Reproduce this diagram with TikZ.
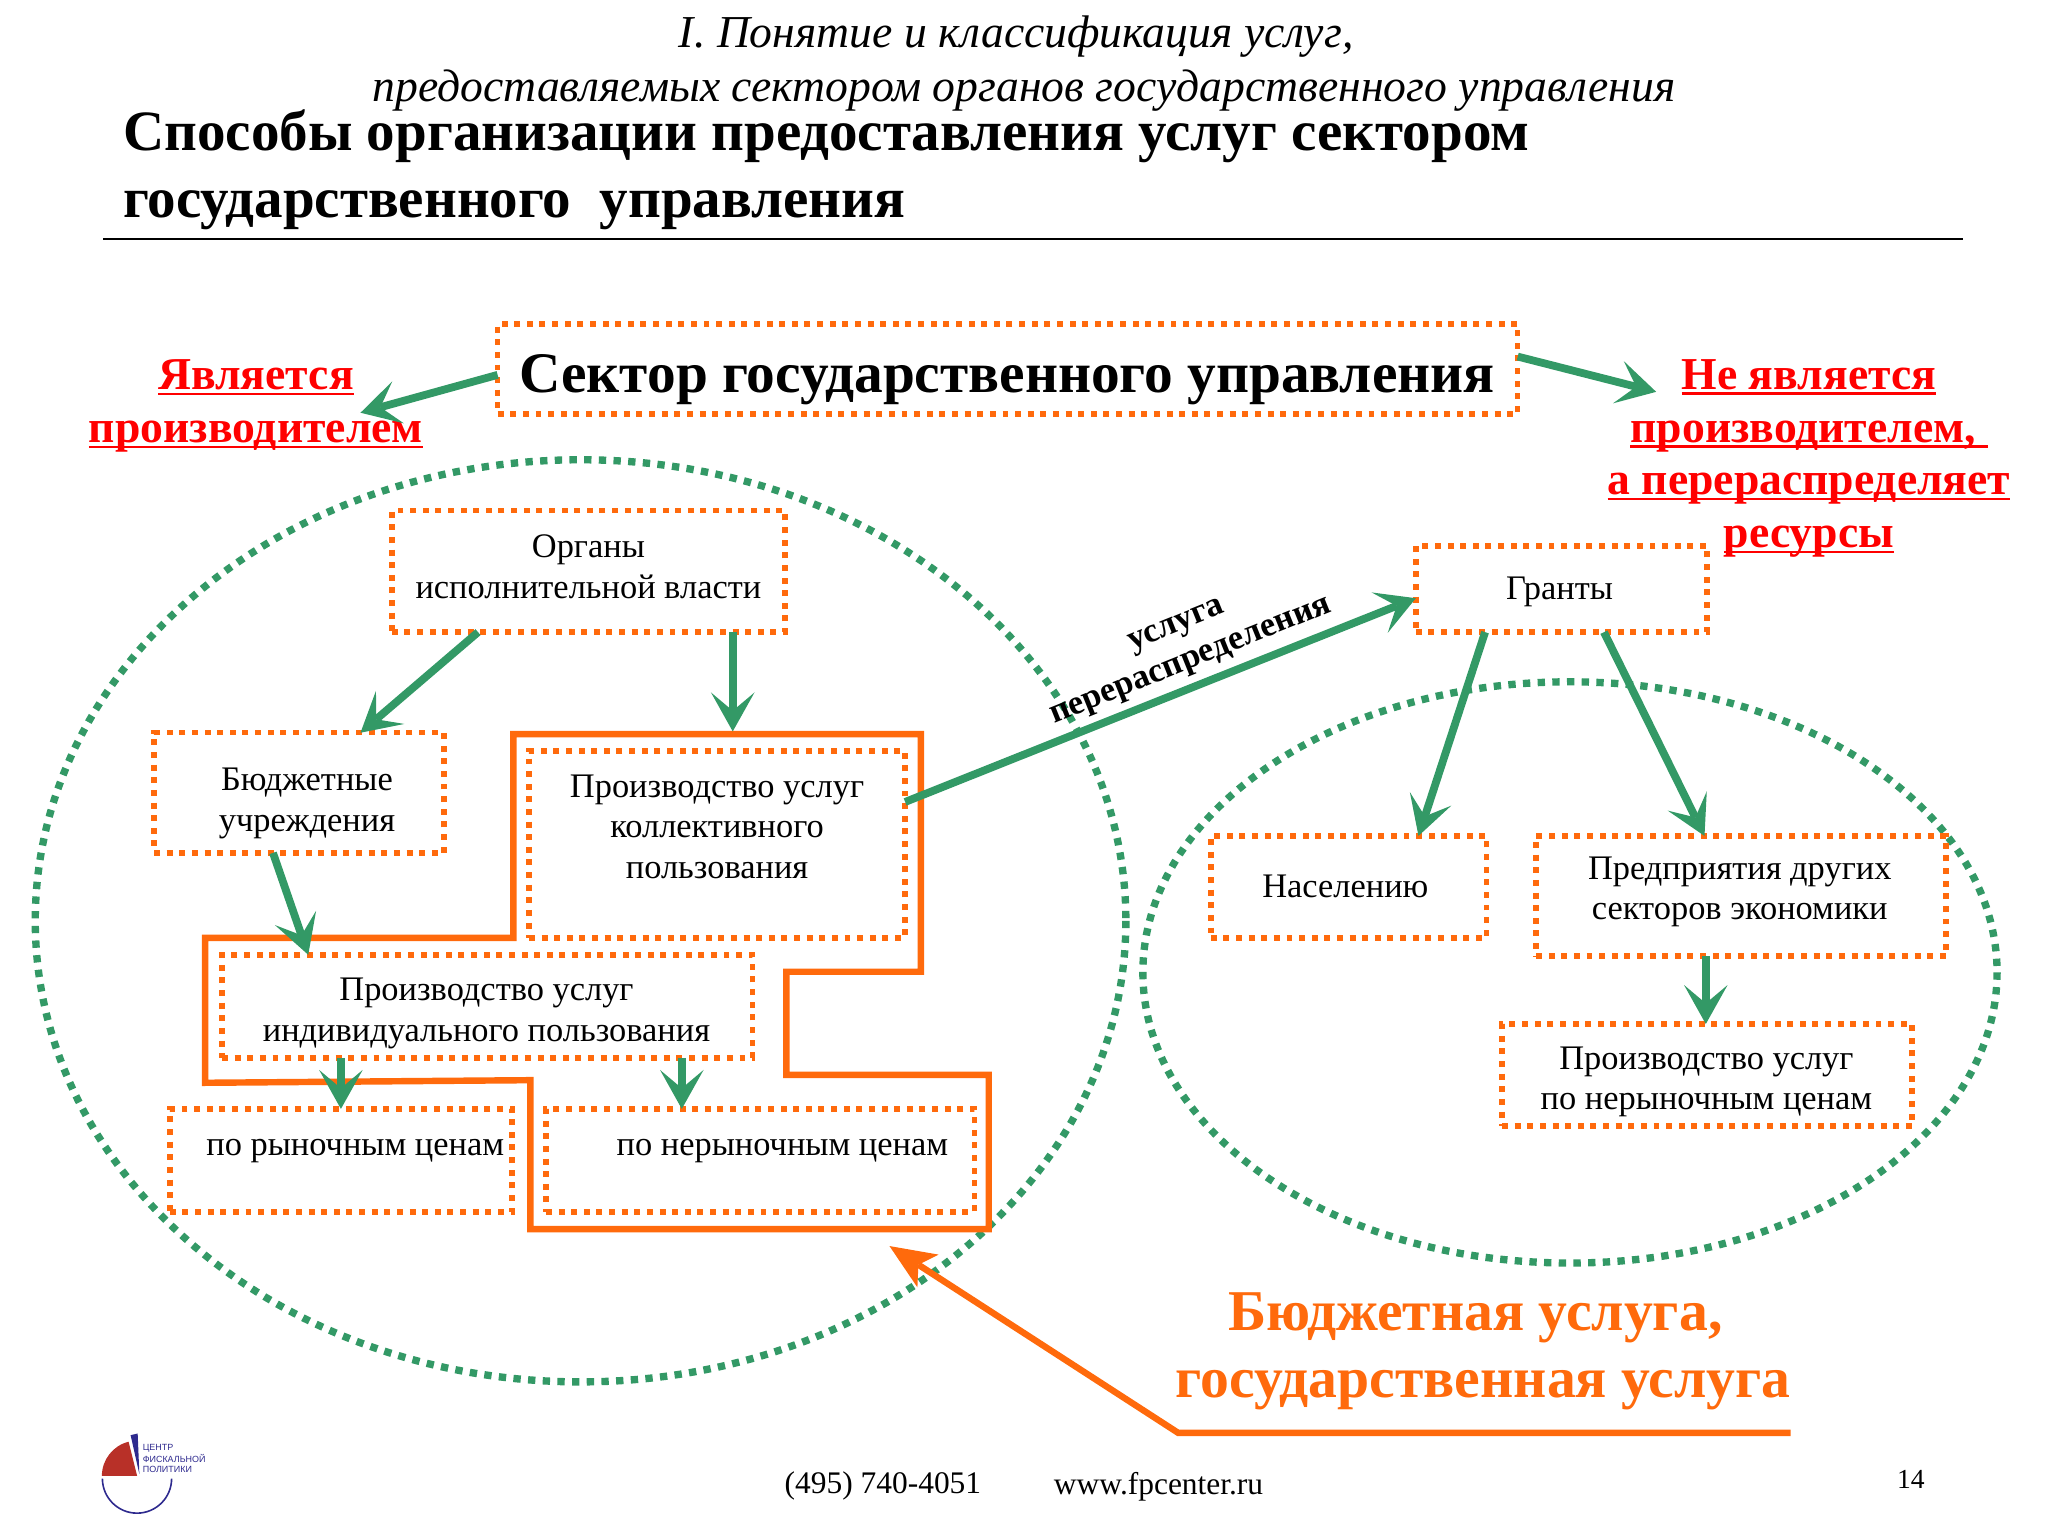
\documentclass[tikz,border=0pt]{standalone}
\usepackage{fontspec}
\setmainfont{Liberation Serif}
\newfontfamily\logofont{Liberation Sans}
\usetikzlibrary{arrows.meta}
\definecolor{fpgreen}{HTML}{339966}
\definecolor{fporange}{HTML}{FF6A0C}
\definecolor{fpred}{HTML}{FF0000}
\definecolor{fpnavy}{HTML}{2E2A8E}
\definecolor{fpbrick}{HTML}{B83028}
\tikzset{
  dotbox/.style 2 args={draw=fporange, line width=2.4pt, dash pattern=on 2.6pt off 2.9pt, inner sep=0pt, outer sep=0pt, minimum width=#1*0.02cm, minimum height=#2*0.02cm},
  zone/.style={draw=fpgreen, line width=3.2pt, dash pattern=on 3.2pt off 3.2pt},
  flow/.style={draw=fpgreen, line width=3.4pt, -{Stealth[length=17pt,width=19pt,inset=8pt,line width=0pt]}},
  hot/.style={draw=fporange, line width=2.8pt, line join=miter},
  redtxt/.style={text=fpred, align=center, font=\fontsize{19.9}{23}\selectfont\bfseries},
  plaintxt/.style={align=center, font=\fontsize{15}{17.6}\selectfont}
}
\newlength{\ullen}
\newcommand{\ul}[1]{\settowidth{\ullen}{#1}#1\llap{\rule[-2.4pt]{\ullen}{1.1pt}}}
\begin{document}
\begin{tikzpicture}[x=0.02cm,y=-0.02cm]
  \useasboundingbox (0,0) rectangle (1568,1176);
  % heading
  \node[font=\fontsize{19.9}{24}\selectfont\itshape] (head1) at (778,28) {I. Понятие и классификация услуг,};
  \node[font=\fontsize{19.9}{24}\selectfont\itshape] (head2) at (784,69) {предоставляемых сектором органов государственного управления};
  \node[anchor=west, inner sep=0pt, font=\fontsize{24.85}{29}\selectfont\bfseries] (title1) at (94,104) {Способы организации предоставления услуг сектором};
  \node[anchor=west, inner sep=0pt, font=\fontsize{24.85}{29}\selectfont\bfseries] (title2) at (94,161) {государственного\ \ управления};
  \coordinate (ruleL) at (79,183);
  \coordinate (ruleR) at (1503,183);
  \draw[line width=1.2pt] (ruleL) -- (ruleR);
  % dotted zones
  \draw[zone] (444.5,705) ellipse [x radius=417.5, y radius=353];
  \draw[zone] (1202,744.5) ellipse [x radius=327, y radius=222.5];
  % boxes
  \node[dotbox={781}{69}] (secgov) at (771.5,282.5) {};
  \node[font=\fontsize{25}{29}\selectfont\bfseries] (secgovtxt) at (771,291) {Сектор государственного управления};
  \node[dotbox={301}{93}] (organ) at (450.5,437.5) {};
  \node[plaintxt] (organtxt) at (450.5,434) {Органы\\исполнительной власти};
  \node[dotbox={222}{92}] (budget) at (229,607) {};
  \node[plaintxt] (budgettxt) at (235,615) {Бюджетные\\учреждения};
  \node[dotbox={288}{143}] (prodcol) at (549,646.5) {};
  \node[plaintxt] (prodcoltxt) at (549,633) {Производство услуг\\коллективного\\пользования};
  \node[dotbox={406}{79}] (prodind) at (373,770.5) {};
  \node[plaintxt] (prodindtxt) at (372.5,776) {Производство услуг\\индивидуального пользования};
  \node[dotbox={262}{79}] (rynok) at (261,888.5) {};
  \node[plaintxt] (rynoktxt) at (272,881) {по рыночным ценам};
  \node[dotbox={328}{79}] (nerynok) at (582,888.5) {};
  \node[plaintxt] (neryntxt) at (599,881) {по нерыночным ценам};
  \node[dotbox={223}{66}] (grant) at (1195.5,451) {};
  \node[plaintxt] (granttxt) at (1194,453) {Гранты};
  \node[dotbox={211}{78}] (naselen) at (1032.5,679) {};
  \node[plaintxt] (naseltxt) at (1030,679) {Населению};
  \node[dotbox={314}{92}] (predpr) at (1333,686) {};
  \node[plaintxt] (predprtxt) at (1332,683) {Предприятия других\\секторов экономики};
  \node[dotbox={314}{78}] (prodner) at (1307,823) {};
  \node[plaintxt] (prodnertxt) at (1306.5,828.5) {Производство услуг\\по нерыночным ценам};
  % outline of the budget service
  \draw[hot] (393,718) -- (393,562) -- (705,562) -- (705,744) -- (602,744) -- (602,823) -- (757,823) -- (757,941) -- (406,941) -- (406,827) -- (157,829) -- (157,718) -- cycle;
  % red notes
  \node[redtxt] (isprod) at (196,311) {\ul{Является}\\\ul{производителем}};
  \node[redtxt] (notprod) at (1385,351) {\ul{Не является}\\\ul{производителем,\ }\\\ul{а перераспределяет}\\\ul{ресурсы}};
  % arrows
  \coordinate (isprodtip) at (276,316);
  \coordinate (notprodtip) at (1268,300);
  \draw[flow] ([shift={(0,39)}]secgov.north west) -- (isprodtip);
  \draw[flow] ([shift={(0,25)}]secgov.north east) -- (notprodtip);
  \draw[flow] ([shift={(66,0)}]organ.south west) -- ([shift={(158,0)}]budget.north west);
  \draw[flow] ([shift={(261,0)}]organ.south west) -- ([shift={(156,-15)}]prodcol.north west);
  \draw[flow] ([shift={(91,0)}]budget.south west) -- ([shift={(66,0)}]prodind.north west);
  \draw[flow] ([shift={(91,0)}]prodind.south west) -- ([shift={(131,0)}]rynok.north west);
  \draw[flow] ([shift={(352,0)}]prodind.south west) -- ([shift={(104,0)}]nerynok.north west);
  \draw[flow] ([shift={(0,39)}]prodcol.north east) -- ([shift={(0,40)}]grant.north west);
  \draw[flow] ([shift={(53,0)}]grant.south west) -- ([shift={(159,0)}]naselen.north west);
  \draw[flow] ([shift={(144,0)}]grant.south west) -- ([shift={(129,0)}]predpr.north west);
  \draw[flow] ([shift={(130,0)}]predpr.south west) -- ([shift={(156,0)}]prodner.north west);
  \node[rotate=22, align=center, font=\fontsize{15}{17}\selectfont\bfseries] (redistr) at (907,494) {услуга\\перераспределения};
  % big orange note
  \node[align=center, text=fporange, font=\fontsize{25.15}{29}\selectfont\bfseries] (state) at (1133,1034.5) {Бюджетная услуга,\hspace*{4pt}\\\hspace*{3pt}государственная услуга};
  \coordinate (stateR) at (1371,1097);
  \coordinate (stateM) at (902,1097);
  \coordinate (stateT) at (681,954);
  \draw[hot, -{Stealth[length=20pt,width=17pt,inset=5pt,line width=0pt]}] (stateR) -- (stateM) -- (stateT);
  % footer
  \node[font=\fontsize{13.7}{16}\selectfont] (phone) at (676,1138) {(495) 740-4051};
  \node[font=\fontsize{13.7}{16}\selectfont] (site) at (887,1138) {www.fpcenter.ru};
  \node[font=\fontsize{12}{14}\selectfont] (pageno) at (1463,1133) {14};
  % logo
  \fill[fpbrick] (105,1130) -- +(-27,0) arc[start angle=180, end angle=104, radius=0.54cm] -- cycle;
  \fill[fpnavy] (106.7,1128.6) -- (100,1098.8) -- (105.4,1097.5) -- cycle;
  \draw[fpnavy, line width=0.7pt] (78.4,1132) arc[start angle=180, delta angle=180, radius=0.53cm];
  \node[anchor=north west, inner sep=0pt, align=left, text=fpnavy, font=\fontsize{3.9}{4.2}\logofont] (logotxt) at (109,1105.5) {ЦЕНТР\\ФИСКАЛЬНОЙ\\ПОЛИТИКИ};
\end{tikzpicture}
\end{document}
